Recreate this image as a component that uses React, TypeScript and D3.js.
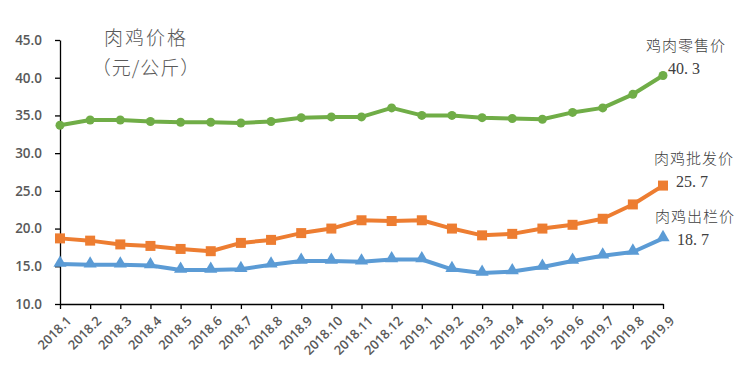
import { useRef, useEffect } from "react";
import { select, scalePoint, scaleLinear, line, axisLeft, axisBottom, symbol, symbolTriangle } from "d3";

// months on x axis
const months = [
  "2018.1", "2018.2", "2018.3", "2018.4", "2018.5", "2018.6", "2018.7", "2018.8", "2018.9", "2018.10",
  "2018.11", "2018.12", "2019.1", "2019.2", "2019.3", "2019.4", "2019.5", "2019.6", "2019.7", "2019.8", "2019.9",
];

// 鸡肉零售价
const retail = [33.7, 34.4, 34.4, 34.2, 34.1, 34.1, 34.0, 34.2, 34.7, 34.8, 34.8, 36.0, 35.0, 35.0, 34.7, 34.6, 34.5, 35.4, 36.0, 37.8, 40.3];
// 肉鸡批发价
const wholesale = [18.7, 18.4, 17.9, 17.7, 17.3, 17.0, 18.1, 18.5, 19.4, 20.0, 21.1, 21.0, 21.1, 20.0, 19.1, 19.3, 20.0, 20.5, 21.3, 23.2, 25.7];
// 肉鸡出栏价
const farmGate = [15.3, 15.2, 15.2, 15.1, 14.5, 14.5, 14.6, 15.2, 15.7, 15.7, 15.6, 15.9, 15.9, 14.6, 14.1, 14.3, 14.9, 15.7, 16.4, 16.9, 18.7];

const yTicks = [10, 15, 20, 25, 30, 35, 40, 45];

const W = 749;
const H = 369;

export default function App() {
  const svgRef = useRef<SVGSVGElement>(null);

  useEffect(() => {
    const svg = select(svgRef.current);
    svg.selectAll("*").remove();

    const x = scalePoint<string>().domain(months).range([60, 663]);
    const y = scaleLinear().domain([10, 45]).range([304, 40]);

    // y axis
    const yAxis = svg
      .append("g")
      .attr("transform", "translate(60,0)")
      .call(axisLeft(y).tickValues(yTicks).tickFormat((d) => (d as number).toFixed(1)).tickSize(5).tickSizeOuter(0));
    yAxis.select(".domain").attr("stroke", "#000").attr("stroke-width", 1.3);
    yAxis.selectAll(".tick line").attr("stroke", "#000").attr("stroke-width", 1.3);
    yAxis
      .selectAll(".tick text")
      .attr("x", -18)
      .attr("fill", "#595959")
      .style("font-family", "'Open Sans', 'Noto Sans', sans-serif")
      .style("font-size", "13.5px")
      .style("font-weight", 600);

    // x axis
    const xAxis = svg
      .append("g")
      .attr("transform", "translate(0,304)")
      .call(axisBottom(x).tickSize(5).tickSizeOuter(0));
    xAxis.select(".domain").attr("stroke", "#000").attr("stroke-width", 1.3);
    xAxis.selectAll(".tick line").attr("stroke", "#000").attr("stroke-width", 1.3);
    xAxis
      .selectAll(".tick text")
      .attr("fill", "#595959")
      .attr("text-anchor", "end")
      .attr("dy", 0)
      .attr("transform", "translate(6,12) rotate(-45)")
      .style("font-family", "'Open Sans', 'Noto Sans', sans-serif")
      .style("font-size", "13px")
      .style("font-weight", 600);

    const lineGen = line<number>()
      .x((_, i) => x(months[i]) as number)
      .y((d) => y(d));

    const series = [
      { data: retail, color: "#70AD47", marker: "circle" },
      { data: wholesale, color: "#ED7D31", marker: "square" },
      { data: farmGate, color: "#5B9BD5", marker: "triangle" },
    ];

    series.forEach((s) => {
      svg
        .append("path")
        .attr("d", lineGen(s.data))
        .attr("fill", "none")
        .attr("stroke", s.color)
        .attr("stroke-width", 4)
        .attr("stroke-linejoin", "round");

      const g = svg.append("g");
      s.data.forEach((v, i) => {
        const cx = x(months[i]) as number;
        const cy = y(v);
        if (s.marker === "circle") {
          g.append("circle").attr("cx", cx).attr("cy", cy).attr("r", 4.5).attr("fill", s.color);
        } else if (s.marker === "square") {
          g.append("rect").attr("x", cx - 5).attr("y", cy - 5).attr("width", 10).attr("height", 10).attr("fill", s.color);
        } else {
          g.append("path")
            .attr("d", symbol().type(symbolTriangle).size(75)())
            .attr("transform", `translate(${cx},${cy - 1})`)
            .attr("fill", s.color);
        }
      });
    });

    // title
    const title = svg
      .append("g")
      .attr("fill", "#595959")
      .style("font-family", "'Noto Sans CJK SC', sans-serif")
      .style("font-size", "19px")
      .style("font-weight", 300)
      .attr("text-anchor", "middle");
    title.append("text").attr("x", 146).attr("y", 45).style("letter-spacing", "2px").text("肉鸡价格");
    title.append("text").attr("x", 146).attr("y", 75).style("letter-spacing", "1px").text("（元/公斤）");

    // end labels
    const ann = svg
      .append("g")
      .attr("fill", "#404040")
      .style("font-family", "'Noto Sans CJK SC', serif")
      .style("font-size", "15px")
      .style("font-weight", 300);
    const labels = [
      { name: "鸡肉零售价", val: retail, nx: 686, ny: 51, vx: 668, vy: 74 },
      { name: "肉鸡批发价", val: wholesale, nx: 694, ny: 164, vx: 676, vy: 187 },
      { name: "肉鸡出栏价", val: farmGate, nx: 695, ny: 222, vx: 677, vy: 245 },
    ];
    labels.forEach((l) => {
      ann.append("text").attr("x", l.nx).attr("y", l.ny).attr("text-anchor", "middle").style("letter-spacing", "1px").text(l.name);
      ann
        .append("text")
        .attr("x", l.vx)
        .attr("y", l.vy)
        .style("font-family", "'Liberation Serif', serif")
        .style("font-size", "16px")
        .style("font-weight", 400)
        .text(l.val[l.val.length - 1].toFixed(1).replace(".", ". "));
    });
  }, []);

  return <svg ref={svgRef} width={W} height={H} style={{ display: "block", margin: "-8px" }} />;
}
